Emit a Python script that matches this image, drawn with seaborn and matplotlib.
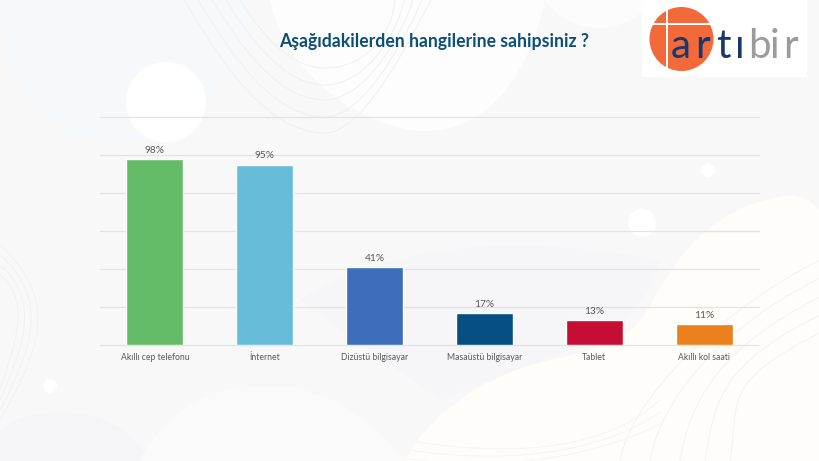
import matplotlib
matplotlib.use("Agg")
import matplotlib.pyplot as plt
from matplotlib.patches import Circle, Rectangle, PathPatch
from matplotlib.path import Path
import pandas as pd
import seaborn as sns

categories = ["Akıllı cep telefonu", "İnternet", "Dizüstü bilgisayar",
              "Masaüstü bilgisayar", "Tablet", "Akıllı kol saati"]
values = [98, 95, 41, 17, 13, 11]
colors = ["#64bc68", "#66bcd9", "#3e6dbc", "#054f82", "#c60d33", "#ea811c"]
y_ticks = [0, 20, 40, 60, 80, 100, 120]
title = "Aşağıdakilerden hangilerine sahipsiniz ?"

W, H = 820, 461

sns.set_theme(style="white")
plt.rcParams["font.family"] = ["Lato", "DejaVu Sans"]

fig = plt.figure(figsize=(W / 100, H / 100), dpi=100, facecolor="#f8f8f9")

# background layer in pixel coordinates
bg = fig.add_axes([0, 0, 1, 1], zorder=0)
bg.set_xlim(0, W)
bg.set_ylim(H, 0)
bg.axis("off")


def smooth_path(points):
    # first point, then triples of bezier points
    codes = [Path.MOVETO] + [Path.CURVE4] * (len(points) - 1)
    return Path(points, codes)


def blob(points, color):
    bg.add_patch(PathPatch(smooth_path(points), fc=color, ec="none"))


def contour(points, color):
    bg.add_patch(PathPatch(smooth_path(points), fc="none", ec=color, lw=0.7))


blob([(0, 0), (0, 110), (70, 150), (130, 140), (190, 130), (240, 90), (250, 0)], "#f6f9fb")
blob([(0, 430), (40, 400), (120, 405), (150, 461), (100, 461), (50, 461), (0, 461)], "#f5f5f7")
# darker middle band behind the small bars
blob([(300, 300), (400, 240), (520, 235), (660, 260), (640, 340), (560, 350), (440, 400)], "#f6f6f8")
blob([(140, 461), (170, 400), (220, 385), (280, 385), (340, 390), (390, 440), (405, 461)], "#fafafa")
# white area at the top
blob([(270, 0), (285, 70), (350, 120), (410, 130), (490, 140), (530, 70), (545, 0)], "#fdfdfe")
blob([(545, 0), (570, 35), (620, 40), (655, 0)], "#fcfcfd")
# cream area lower right
blob([(405, 461), (425, 420), (470, 385), (530, 365), (590, 350), (630, 345), (650, 305),
      (675, 260), (710, 205), (790, 195), (805, 195), (815, 205), (820, 210),
      (820, 300), (820, 400), (820, 461), (700, 461), (550, 461), (405, 461)], "#fefdf9")

for x, y, r in [(166, 102, 40), (642, 223, 14), (708, 170, 7), (50, 386, 7)]:
    bg.add_patch(Circle((x, y), r, fc="#ffffff", ec="none"))

# faint contour lines
for i, low in enumerate([68, 85, 100, 117, 133]):
    contour([(240 - 14 * i, 0), (262 - 14 * i, 35), (290 - 8 * i, low), (325, low),
             (365, low), (392 + 5 * i, 35), (395 + 9 * i, 0)], "#f0f0f3")
for end_y, foot in zip([260, 278, 297, 315, 333], [620, 650, 680, 705, 730]):
    contour([(foot, 461), (foot + 10, 400), (720, end_y + 50), (820, end_y)], "#f5f3ed")
for i in range(3):
    contour([(410, 441 + 9 * i), (500, 455 + 9 * i), (600, 455), (660, 400 + 12 * i)], "#f7f5f0")
for i in range(4):
    contour([(0, 245 + 10 * i), (60 - 9 * i, 300), (40 - 9 * i, 350), (0, 420 - 10 * i)], "#f1f1f4")

# logo
bg.add_patch(Rectangle((642, 0), 165, 77, fc="#ffffff", ec="none"))
bg.add_patch(Circle((681.5, 39), 32, fc="#f26a3a", ec="none"))
bg.add_patch(Rectangle((666, 5), 2.5, 68, fc="#ffffff", ec="none"))
bg.add_patch(Rectangle((648, 23), 66, 2.5, fc="#ffffff", ec="none"))
for letter, x, color in [("a", 671, "#17386f"), ("r", 695, "#17386f"), ("t", 716, "#17386f"),
                         ("ı", 735, "#17386f"), ("b", 748, "#9b9b9b"), ("i", 770, "#9b9b9b"),
                         ("r", 783, "#9b9b9b")]:
    bg.text(x, 58, letter, color=color, fontsize=29, ha="left", va="baseline")

bg.text(434, 42, title, color="#0e4f78", fontsize=12.7, fontweight="bold", ha="center", va="center")

# chart
ax = fig.add_axes([100 / W, 1 - 345.1 / H, 659 / W, 228 / H], zorder=1)
ax.patch.set_alpha(0)
df = pd.DataFrame({"category": categories, "value": values})
sns.barplot(data=df, x="category", y="value", hue="category", palette=colors,
            width=0.52, saturation=1, legend=False, ax=ax, zorder=2)
ax.set_xlim(-0.5, 5.5)
ax.set_ylim(0, 120)
ax.set_yticks(y_ticks)
ax.tick_params(axis="y", left=False, labelleft=False)
ax.tick_params(axis="x", bottom=False, length=0, labelsize=6.2, labelcolor="#595959", pad=6)
ax.set_xlabel("")
ax.set_ylabel("")
ax.grid(axis="y", color="#e3e3e5", lw=0.9, zorder=1, clip_on=False)
ax.set_axisbelow(True)
sns.despine(ax=ax, left=True, top=True, right=True, bottom=True)

for container in ax.containers:
    ax.bar_label(container, fmt="%d%%", fontsize=7.3, color="#595959", padding=3)

fig.savefig("out.png", dpi=100)
